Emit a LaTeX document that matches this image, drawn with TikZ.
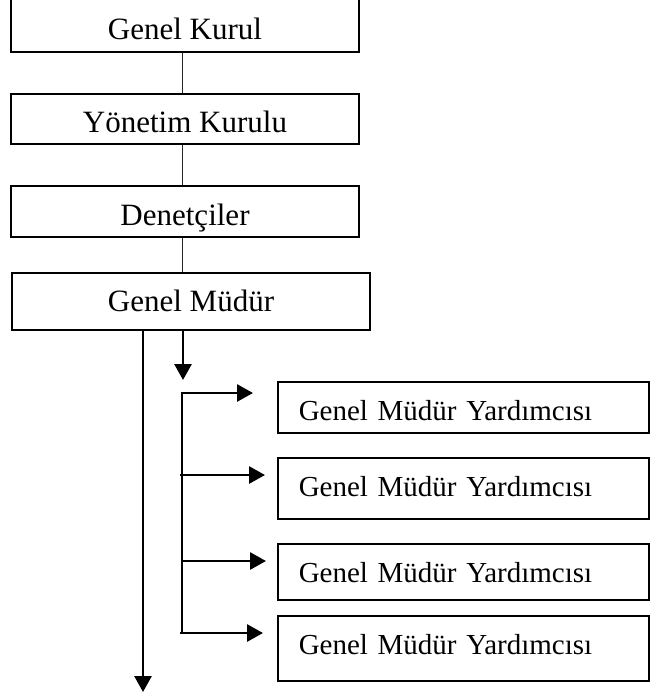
\documentclass[tikz,border=0pt]{standalone}
\usepackage{fontspec}
\setmainfont{Liberation Serif}
\usetikzlibrary{arrows.meta}
\begin{document}
\begin{tikzpicture}[x=1pt,y=-1pt,
  topbox/.style={draw=black,line width=1.5pt,rectangle,inner sep=0pt,font=\fontsize{31}{33}\selectfont,text height=20pt,text depth=0pt},
  subbox/.style={draw=black,line width=1.5pt,rectangle,inner sep=0pt,font=\fontsize{29}{31}\selectfont,text height=19pt,text depth=0pt,align=left},
  thinline/.style={line width=1pt,draw=black!85},
  arr/.style={line width=2.8pt,-{Triangle[length=16pt,width=17pt]}},
  plain/.style={line width=2.8pt}]
\useasboundingbox (0,0) rectangle (649,696);
% top chain
\node[topbox,minimum width=348pt,minimum height=58pt] (gk) at (185,23) {\raisebox{-6pt}{Genel Kurul}};
\node[topbox,minimum width=348pt,minimum height=50pt] (yk) at (185,119) {\raisebox{-3pt}{Yönetim Kurulu}};
\node[topbox,minimum width=348pt,minimum height=51pt] (den) at (185,211.5) {\raisebox{-4pt}{Denetçiler}};
\node[topbox,minimum width=358pt,minimum height=57pt] (gm) at (191,301.5) {Genel Müdür};
\coordinate (cx) at (182,0);
\draw[thinline] (gk.south -| cx) -- (yk.north -| cx);
\draw[thinline] (yk.south -| cx) -- (den.north -| cx);
\draw[thinline] (den.south -| cx) -- (gm.north -| cx);
% assistant boxes
\node[subbox,minimum width=371pt,minimum height=51pt,anchor=north west,text width=329pt] (g1) at (277,381) {\raisebox{-4pt}{Genel Müdür Yardımcısı}};
\node[subbox,minimum width=371pt,minimum height=61pt,anchor=north west,text width=329pt] (g2) at (277,457) {\raisebox{1.5pt}{Genel Müdür Yardımcısı}};
\node[subbox,minimum width=371pt,minimum height=56pt,anchor=north west,text width=329pt] (g3) at (277,543) {\raisebox{-1pt}{Genel Müdür Yardımcısı}};
\node[subbox,minimum width=371pt,minimum height=65pt,anchor=north west,text width=329pt] (g4) at (277,615) {\raisebox{3.5pt}{Genel Müdür Yardımcısı}};
% long down arrow
\coordinate (lx) at (143,0);
\coordinate (lend) at (143,692);
\draw[arr] (gm.south -| lx) -- (lend);
% short down arrow
\coordinate (sx) at (183,0);
\coordinate (send) at (183,380);
\draw[arr] (gm.south -| sx) -- (send);
% bracket
\coordinate (b1) at (182,393);
\coordinate (b4) at (182,633);
\draw[plain] (b1) -- (b4);
\coordinate (t1) at (253,393);
\coordinate (s2) at (180,475);
\coordinate (t2) at (265,475);
\coordinate (s3) at (182,561);
\coordinate (t3) at (266,561);
\coordinate (s4) at (180,633);
\coordinate (t4) at (263,633);
\draw[arr] ([xshift=-1.4pt]b1) -- (t1);
\draw[arr] (s2) -- (t2);
\draw[arr] (s3) -- (t3);
\draw[arr] (s4) -- (t4);
\end{tikzpicture}
\end{document}
